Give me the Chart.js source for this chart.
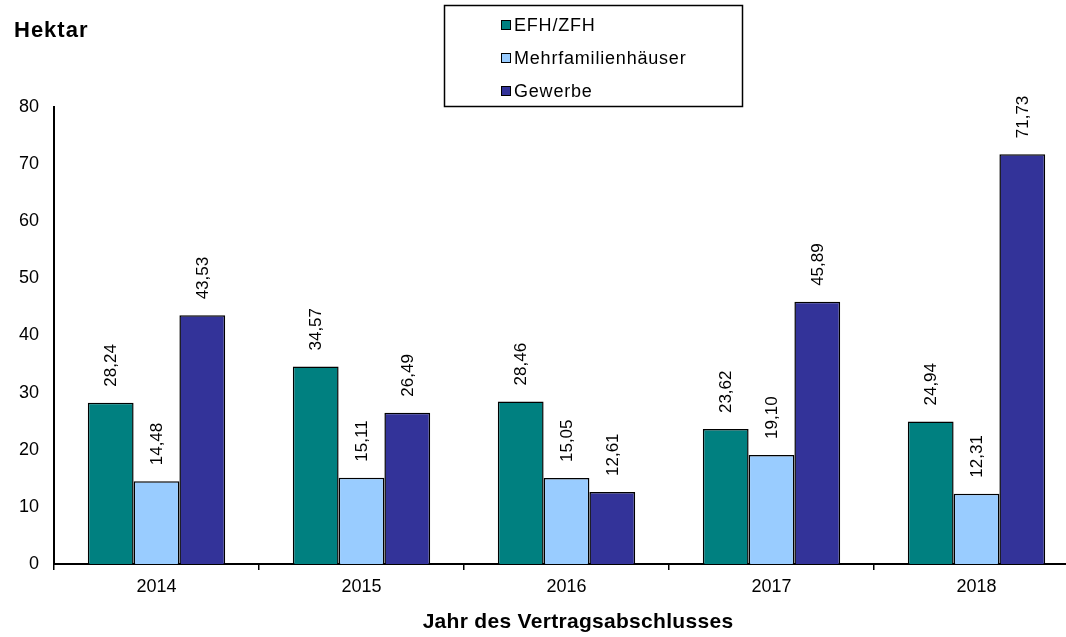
<!DOCTYPE html>
<html>
<head>
<meta charset="utf-8">
<script src="https://cdn.jsdelivr.net/npm/chart.js@4"></script>
<style>
  html, body { margin: 0; padding: 0; background: #fff; overflow: hidden; }
  #wrap { width: 1080px; height: 637px; }
</style>
</head>
<body>
<div id="wrap"><canvas id="graph"></canvas></div>
<script>
"use strict";

// Daten
const years = ["2014", "2015", "2016", "2017", "2018"];
const efh_zfh = [28.24, 34.57, 28.46, 23.62, 24.94];
const mehrfamilien = [14.48, 15.11, 15.05, 19.10, 12.31];
const gewerbe = [43.53, 26.49, 12.61, 45.89, 71.73];
const series_names = ["EFH/ZFH", "Mehrfamilienhäuser", "Gewerbe"];
const series_colors = ["#008080", "#99CCFF", "#333399"];
const y_min = 0;
const y_max = 80;
const y_step = 10;

const FONT = "'Liberation Sans', Arial, sans-serif";

// Werte über den Balken (senkrecht)
const value_labels = {
  id: "value_labels",
  afterDatasetsDraw(chart) {
    const ctx = chart.ctx;
    ctx.save();
    ctx.font = "17px " + FONT;
    ctx.fillStyle = "#000";
    ctx.textAlign = "left";
    ctx.textBaseline = "middle";
    chart.data.datasets.forEach((ds, i) => {
      chart.getDatasetMeta(i).data.forEach((bar, j) => {
        const text = ds.data[j].toFixed(2).replace(".", ",");
        ctx.save();
        ctx.translate(bar.x + 1, bar.y - 16);
        ctx.rotate(-Math.PI / 2);
        ctx.fillText(text, 0, 0);
        ctx.restore();
      });
    });
    ctx.restore();
  },
};

// Legende im Kasten, Einheit und Achsentitel
const frame_texts = {
  id: "frame_texts",
  afterDraw(chart) {
    const ctx = chart.ctx;
    ctx.save();
    ctx.fillStyle = "#000";
    ctx.textBaseline = "middle";
    ctx.textAlign = "left";
    ctx.font = "bold 22px " + FONT;
    ctx.letterSpacing = "1px";
    ctx.fillText("Hektar", 14, 31);

    ctx.font = "bold 21px " + FONT;
    ctx.letterSpacing = "0.3px";
    ctx.textAlign = "center";
    ctx.fillText("Jahr des Vertragsabschlusses", 578, 622);

    ctx.strokeStyle = "#000";
    ctx.lineWidth = 1.5;
    ctx.strokeRect(444.5, 5.5, 298, 101);

    ctx.font = "18px " + FONT;
    ctx.letterSpacing = "0.8px";
    ctx.textAlign = "left";
    const rows = [25, 58, 91];
    chart.data.datasets.forEach((ds, i) => {
      ctx.fillStyle = ds.backgroundColor;
      ctx.fillRect(501.5, rows[i] - 4.5, 9, 9);
      ctx.lineWidth = 1;
      ctx.strokeRect(501.5, rows[i] - 4.5, 9, 9);
      ctx.fillStyle = "#000";
      ctx.fillText(ds.label, 514, rows[i] + 1);
    });
    ctx.restore();
  },
};

function make_dataset(i, values) {
  return {
    label: series_names[i],
    data: values,
    backgroundColor: series_colors[i],
    borderColor: "#000",
    borderWidth: 1.5,
    barPercentage: 1.0,
    categoryPercentage: 0.67,
  };
}

const config = {
  type: "bar",
  data: {
    labels: years,
    datasets: [
      make_dataset(0, efh_zfh),
      make_dataset(1, mehrfamilien),
      make_dataset(2, gewerbe),
    ],
  },
  options: {
    responsive: true,
    maintainAspectRatio: false,
    animation: false,
    layout: { padding: { top: 107, right: 1, left: 0, bottom: 0 } },
    plugins: {
      legend: { display: false },
      tooltip: { enabled: false },
    },
    scales: {
      x: {
        offset: true,
        grid: {
          offset: true,
          drawOnChartArea: false,
          drawTicks: true,
          tickLength: 6,
          color: "#000",
          lineWidth: 1.5,
        },
        border: { display: true, color: "#000", width: 2 },
        ticks: { color: "#000", padding: 6, font: { family: FONT, size: 18 } },
        afterFit(scale) {
          scale.height = 73;
        },
      },
      y: {
        min: y_min,
        max: y_max,
        grid: { display: false, drawTicks: false },
        border: { display: true, color: "#000", width: 2 },
        ticks: {
          stepSize: y_step,
          color: "#000",
          padding: 15,
          font: { family: FONT, size: 18 },
        },
        afterFit(scale) {
          scale.width = 54;
        },
      },
    },
  },
  plugins: [value_labels, frame_texts],
};

new Chart(document.getElementById("graph"), config);
</script>
</body>
</html>
